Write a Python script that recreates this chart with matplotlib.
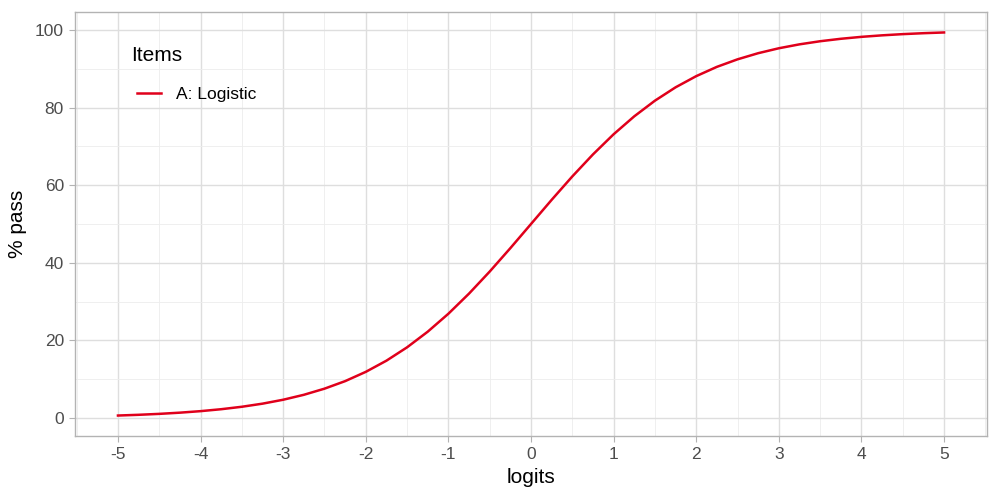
import matplotlib.pyplot as plt
import numpy as np

plt.rcParams["font.family"] = ["Liberation Sans", "DejaVu Sans"]

# logits and % pass
logits = [-5, -4.75, -4.5, -4.25, -4, -3.75, -3.5, -3.25, -3, -2.75, -2.5,
          -2.25, -2, -1.75, -1.5, -1.25, -1, -0.75, -0.5, -0.25, 0,
          0.25, 0.5, 0.75, 1, 1.25, 1.5, 1.75, 2, 2.25, 2.5,
          2.75, 3, 3.25, 3.5, 3.75, 4, 4.25, 4.5, 4.75, 5]
pct_pass = [0.67, 0.86, 1.10, 1.41, 1.80, 2.30, 2.93, 3.73, 4.74, 6.01, 7.59,
            9.53, 11.92, 14.80, 18.24, 22.27, 26.89, 32.08, 37.75, 43.78, 50.0,
            56.22, 62.25, 67.92, 73.11, 77.73, 81.76, 85.20, 88.08, 90.47, 92.41,
            93.99, 95.26, 96.27, 97.07, 97.70, 98.20, 98.59, 98.90, 99.14, 99.33]
label = "A: Logistic"
xticks = [-5, -4, -3, -2, -1, 0, 1, 2, 3, 4, 5]
yticks = [0, 20, 40, 60, 80, 100]

fig = plt.figure(figsize=(10, 5), dpi=100)
ax = fig.add_axes([0.075, 0.128, 0.912, 0.848])

ax.plot(logits, pct_pass, color="#E0001B", lw=1.8, label=label)

ax.set_xlim(-5.52, 5.52)
ax.set_ylim(-4.6, 104.6)
ax.set_xticks(xticks)
ax.set_xticklabels([str(t) for t in xticks])
ax.set_yticks(yticks)
ax.set_xticks(np.arange(-5.5, 5.6, 1.0), minor=True)
ax.set_yticks(np.arange(10, 100, 20), minor=True)

ax.grid(True, which="major", color="#DEDEDE", lw=1.0)
ax.grid(True, which="minor", color="#EDEDED", lw=0.6)
ax.set_axisbelow(True)
for s in ax.spines.values():
    s.set_color("#B3B3B3")
    s.set_linewidth(1.0)
ax.tick_params(which="major", length=4, color="#B3B3B3", labelsize=12.5,
               labelcolor="#4D4D4D", pad=4)
ax.tick_params(which="minor", length=0)

ax.set_xlabel("logits", fontsize=15, labelpad=4)
ax.set_ylabel("% pass", fontsize=15, labelpad=6)

leg = ax.legend(title="Items", loc="upper left", bbox_to_anchor=(0.054, 0.937),
                frameon=False, fontsize=12.5, title_fontsize=15,
                handlelength=1.4, handletextpad=0.85, borderaxespad=0)
leg._legend_box.align = "left"
leg._legend_box.sep = 12
leg._legend_handle_box.pad = 4

fig.savefig("out.png")
